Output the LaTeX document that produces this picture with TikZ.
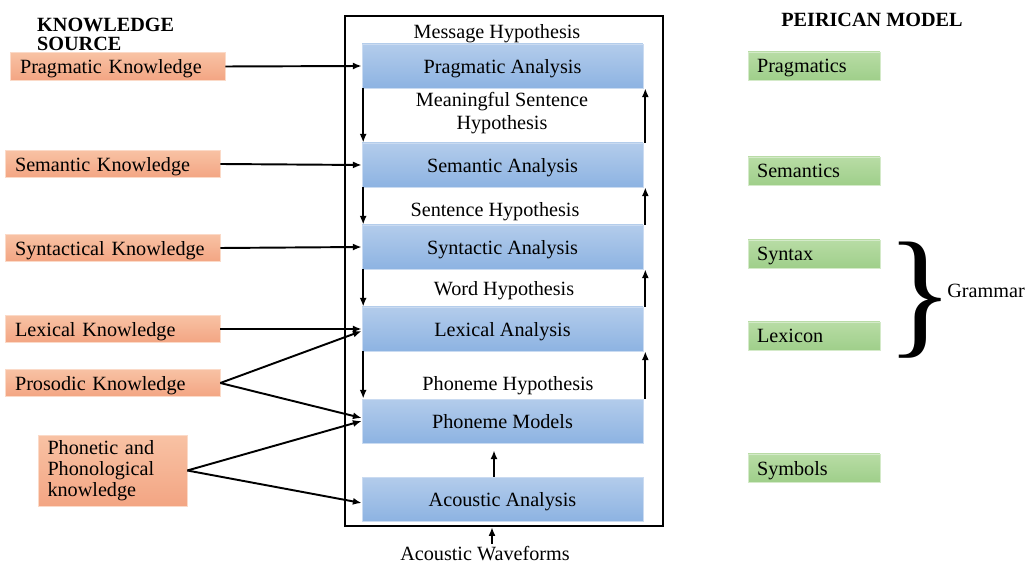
\documentclass[tikz,border=0pt]{standalone}
\usepackage{fontspec}
\setmainfont{Liberation Serif}
\usetikzlibrary{arrows.meta}
\definecolor{blueTop}{HTML}{B3CCEB}
\definecolor{blueBot}{HTML}{8DB3E2}
\definecolor{orTop}{HTML}{F8C2A4}
\definecolor{orBot}{HTML}{F3A583}
\definecolor{grTop}{HTML}{B8DCA5}
\definecolor{grBot}{HTML}{9FCF8A}
\begin{document}
\begin{tikzpicture}[x=0.02cm,y=-0.02cm,
  font=\fontsize{11.5}{13}\selectfont,
  abox/.style={top color=blueTop, bottom color=blueBot, draw=blueTop!70!white,
    minimum width=5.62cm, minimum height=0.88cm, inner sep=0pt, text depth=0pt},
  orbox/.style={top color=orTop, bottom color=orBot, draw=orTop!60!white,
    inner sep=0pt, align=left},
  kbox/.style={orbox, minimum width=4.3cm, minimum height=0.55cm,
    text width=3.9cm, text depth=0pt},
  pbox/.style={top color=grTop, bottom color=grBot, draw=grTop!60!white,
    minimum width=2.64cm, minimum height=0.56cm, inner sep=0pt,
    text width=2.28cm, align=left, text depth=0pt},
  hyp/.style={align=center, inner sep=1pt, text depth=0pt},
  arr/.style={-{Latex[length=5pt,width=4pt]}, line width=1.1pt}]
\useasboundingbox (0,0) rectangle (1025,563);

%Headings
\node[anchor=north west, align=left, font=\fontsize{11.5}{11}\selectfont\bfseries] (ksrc) at (31,12) {KNOWLEDGE\\SOURCE};
\node[font=\fontsize{11.5}{13}\selectfont\bfseries] (pmod) at (872,20) {PEIRICAN MODEL};

%Frame
\node[draw, line width=1.4pt, minimum width=6.36cm, minimum height=10.2cm, inner sep=0pt] (frame) at (504,271) {};

%Analysis boxes
\node[abox] (prag) at (502.5,66) {Pragmatic Analysis};
\node[abox] (sem) at (502.5,165) {Semantic Analysis};
\node[abox] (syn) at (502.5,247) {Syntactic Analysis};
\node[abox] (lex) at (502.5,329) {Lexical Analysis};
\node[abox] (pho) at (502.5,421) {Phoneme Models};
\node[abox] (aco) at (502.5,499) {Acoustic Analysis};

%Hypotheses
\node[hyp] (msg) at (497,31) {Message Hypothesis};
\node[hyp] (msh) at (502,111) {Meaningful Sentence\\Hypothesis};
\node[hyp] (sh) at (495,209) {Sentence Hypothesis};
\node[hyp] (wh) at (504,288) {Word Hypothesis};
\node[hyp] (ph) at (508,383) {Phoneme Hypothesis};
\node[hyp] (wave) at (485,553) {Acoustic Waveforms};

%Knowledge sources
\node[kbox] (pk) at (117.5,66.5) {Pragmatic Knowledge};
\node[kbox] (sk) at (112.5,164) {Semantic Knowledge};
\node[kbox] (yk) at (112.5,248) {Syntactical Knowledge};
\node[kbox] (lk) at (112.5,329) {Lexical Knowledge};
\node[kbox] (rk) at (112.5,383) {Prosodic Knowledge};
\node[orbox, minimum width=2.98cm, text width=2.6cm, minimum height=1.42cm,
  font=\fontsize{11.5}{11.8}\selectfont] (nk) at (112.5,470.5) {Phonetic and\\Phonological\\knowledge};

%Peirican model
\node[pbox] (pm1) at (814,66) {Pragmatics};
\node[pbox] (pm2) at (814,171) {Semantics};
\node[pbox] (pm3) at (814,254) {Syntax};
\node[pbox] (pm4) at (814,336) {Lexicon};
\node[pbox] (pm5) at (814,468) {Symbols};
\node[anchor=east, inner sep=0pt, font=\fontsize{80}{80}\selectfont] (brace) at (954,300) {\}};
\node[anchor=west, inner sep=0pt] (gram) at (947,291) {Grammar};

%Knowledge arrows
\draw[arr] (pk.east) -- (prag.west);
\draw[arr] (sk.east) -- (sem.west);
\draw[arr] (yk.east) -- (syn.west);
\draw[arr] (lk.east) -- (lex.west);
\draw[arr] (rk.east) -- ([yshift=-0.04cm]lex.west);
\draw[arr] (rk.east) -- ([yshift=0.06cm]pho.west);
\draw[arr] (nk.east) -- (pho.west);
\draw[arr] (nk.east) -- ([yshift=-0.08cm]aco.west);

%Down arrows
\draw[arr] ([xshift=0.03cm]prag.south west) -- ([xshift=0.03cm]sem.north west);
\draw[arr] ([xshift=0.03cm]sem.south west) -- ([xshift=0.03cm]syn.north west);
\draw[arr] ([xshift=0.03cm]syn.south west) -- ([xshift=0.03cm]lex.north west);
\draw[arr] ([xshift=0.03cm]lex.south west) -- ([xshift=0.03cm]pho.north west);

%Up arrows
\draw[arr] ([xshift=0.04cm]sem.north east) -- ([xshift=0.04cm]prag.south east);
\draw[arr] ([xshift=0.04cm]syn.north east) -- ([xshift=0.04cm]sem.south east);
\draw[arr] ([xshift=0.04cm]lex.north east) -- ([xshift=0.04cm]syn.south east);
\draw[arr] ([xshift=0.04cm]pho.north east) -- ([xshift=0.04cm]lex.south east);
\draw[arr] ([xshift=-0.17cm]aco.north) -- ([xshift=-0.17cm,yshift=-0.14cm]pho.south);
\draw[arr] ([xshift=0.14cm]wave.north) -- ([xshift=0.14cm]wave.north |- frame.south);

\end{tikzpicture}
\end{document}
